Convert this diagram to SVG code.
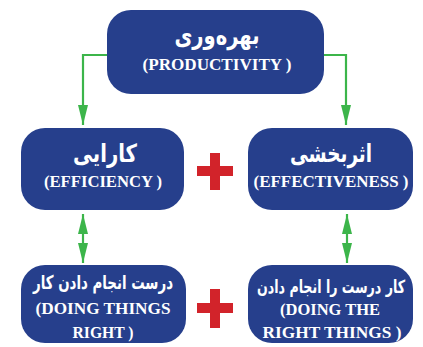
<svg xmlns="http://www.w3.org/2000/svg" width="423" height="347" viewBox="0 0 423 347">
  <style>
    .box { fill: #263f8c; }
    .fa { font-family: "DejaVu Sans", "Noto Sans", sans-serif; font-weight: bold; fill: #ffffff; text-anchor: middle; }
    .en { font-family: "Liberation Serif", "DejaVu Serif", "Times New Roman", serif; font-weight: bold; fill: #ffffff; text-anchor: middle; font-size: 16px; }
    .link { fill: none; stroke: #3cb54a; stroke-width: 2.2; }
    .plus { fill: #d2232a; }
  </style>
  <defs>
    <marker id="arrow" viewBox="0 0 20 10" refX="20" refY="5" markerWidth="20" markerHeight="10" markerUnits="userSpaceOnUse" orient="auto-start-reverse">
      <path d="M0,0 L20,5 L0,10 Z" fill="#3cb54a"/>
    </marker>
  </defs>

  <!-- connectors -->
  <g id="connectors">
    <path class="link" d="M107,55 H83 V125" marker-end="url(#arrow)"/>
    <path class="link" d="M324,55 H346 V125" marker-end="url(#arrow)"/>
    <path class="link" d="M83,214 V263" marker-start="url(#arrow)" marker-end="url(#arrow)"/>
    <path class="link" d="M347,214 V263" marker-start="url(#arrow)" marker-end="url(#arrow)"/>
  </g>

  <!-- productivity -->
  <g id="productivity">
    <rect class="box" x="107" y="10" width="217" height="84" rx="24"/>
    <text class="fa" x="217" y="44" font-size="25" textLength="85" lengthAdjust="spacingAndGlyphs">بهره‌وری</text>
    <text class="en" x="217" y="70" textLength="149" lengthAdjust="spacingAndGlyphs">(PRODUCTIVITY )</text>
  </g>

  <!-- efficiency -->
  <g id="efficiency">
    <rect class="box" x="21" y="128" width="163" height="82" rx="24"/>
    <text class="fa" x="105" y="162" font-size="25" textLength="64" lengthAdjust="spacingAndGlyphs">کارایی</text>
    <text class="en" x="103" y="187" textLength="118" lengthAdjust="spacingAndGlyphs">(EFFICIENCY )</text>
  </g>

  <!-- effectiveness -->
  <g id="effectiveness">
    <rect class="box" x="248" y="128" width="165" height="82" rx="24"/>
    <text class="fa" x="331" y="162" font-size="25" textLength="82" lengthAdjust="spacingAndGlyphs">اثربخشی</text>
    <text class="en" x="331" y="187" textLength="155" lengthAdjust="spacingAndGlyphs">(EFFECTIVENESS )</text>
  </g>

  <!-- doing things right -->
  <g id="doing-things-right">
    <rect class="box" x="21" y="265" width="165" height="78" rx="24"/>
    <text class="fa" x="103" y="289" font-size="19" textLength="140" lengthAdjust="spacingAndGlyphs">درست انجام دادن کار</text>
    <text class="en" x="103" y="314" textLength="135" lengthAdjust="spacingAndGlyphs">(DOING THINGS</text>
    <text class="en" x="103" y="338" textLength="61" lengthAdjust="spacingAndGlyphs">RIGHT )</text>
  </g>

  <!-- doing the right things -->
  <g id="doing-the-right-things">
    <rect class="box" x="248" y="265" width="165" height="78" rx="24"/>
    <text class="fa" x="331" y="293" font-size="18" textLength="148" lengthAdjust="spacingAndGlyphs">کار درست را انجام دادن</text>
    <text class="en" x="330" y="315" textLength="100" lengthAdjust="spacingAndGlyphs">(DOING THE</text>
    <text class="en" x="332" y="338" textLength="139" lengthAdjust="spacingAndGlyphs">RIGHT THINGS )</text>
  </g>

  <!-- plus signs -->
  <g id="plus-top">
    <rect class="plus" x="197" y="166" width="36" height="10"/>
    <rect class="plus" x="210" y="153" width="10" height="37"/>
  </g>
  <g id="plus-bottom">
    <rect class="plus" x="197" y="303" width="36" height="10"/>
    <rect class="plus" x="210" y="289" width="10" height="39"/>
  </g>
</svg>
